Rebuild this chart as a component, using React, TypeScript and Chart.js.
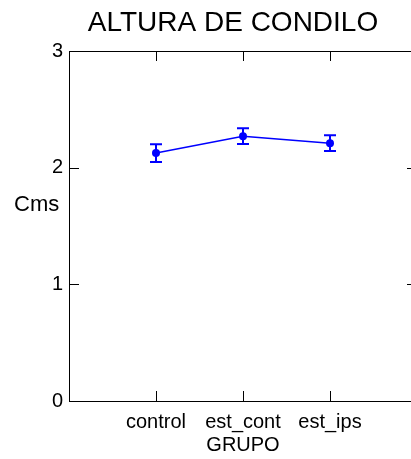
import React, { useEffect, useRef } from "react";
import { Chart, registerables } from "chart.js";

Chart.register(...registerables);

const categories = ["control", "est_cont", "est_ips"];
const means = [2.125, 2.27, 2.21];
const errors = [0.076, 0.068, 0.067];
const yTickValues = [0, 1, 2, 3];
const titleText = "ALTURA DE CONDILO";
const xTitle = "GRUPO";
const yTitle = "Cms";

const FONT = "'Liberation Sans', Arial, sans-serif";
const BLUE = "#0000FF";

const decorPlugin = {
  id: "decor",
  afterDatasetsDraw(chart: any) {
    const { ctx, scales } = chart;
    const x = scales.x;
    const y = scales.y;
    ctx.save();
    ctx.strokeStyle = BLUE;
    ctx.lineWidth = 2;
    ctx.beginPath();
    means.forEach((m, i) => {
      const px = x.getPixelForValue(i + 1);
      const hi = y.getPixelForValue(m + errors[i]);
      const lo = y.getPixelForValue(m - errors[i]);
      ctx.moveTo(px, hi);
      ctx.lineTo(px, lo);
      ctx.moveTo(px - 6, hi);
      ctx.lineTo(px + 6, hi);
      ctx.moveTo(px - 6, lo);
      ctx.lineTo(px + 6, lo);
    });
    ctx.stroke();
    ctx.restore();
  },
  afterDraw(chart: any) {
    const { ctx, chartArea, scales } = chart;
    const { left, right, top, bottom } = chartArea;
    const x = scales.x;
    const y = scales.y;
    ctx.save();
    ctx.strokeStyle = "#000";
    ctx.lineWidth = 1;
    ctx.beginPath();
    categories.forEach((_, i) => {
      const px = Math.round(x.getPixelForValue(i + 1)) + 0.5;
      ctx.moveTo(px, bottom);
      ctx.lineTo(px, bottom - 10);
      ctx.moveTo(px, top);
      ctx.lineTo(px, top + 10);
    });
    yTickValues.forEach((v) => {
      const py = Math.round(y.getPixelForValue(v)) + 0.5;
      ctx.moveTo(left, py);
      ctx.lineTo(left + 10, py);
      ctx.moveTo(right, py);
      ctx.lineTo(right - 10, py);
    });
    ctx.stroke();
    ctx.fillStyle = "#000";
    ctx.font = `22px ${FONT}`;
    ctx.textAlign = "left";
    ctx.textBaseline = "middle";
    ctx.fillText(yTitle, 14, y.getPixelForValue(1.68));
    ctx.restore();
  },
};

export default function App() {
  const ref = useRef<HTMLCanvasElement>(null);
  useEffect(() => {
    if (!ref.current) return;
    const chart = new Chart(ref.current, {
      type: "line",
      data: {
        datasets: [
          {
            data: means.map((m, i) => ({ x: i + 1, y: m })),
            borderColor: BLUE,
            backgroundColor: BLUE,
            borderWidth: 1.5,
            pointRadius: 4,
            pointBorderWidth: 0,
            pointBackgroundColor: BLUE,
            tension: 0,
          },
        ],
      },
      plugins: [decorPlugin],
      options: {
        responsive: false,
        animation: false,
        layout: { padding: 0 },
        plugins: {
          legend: { display: false },
          tooltip: { enabled: false },
          title: {
            display: true,
            text: titleText,
            color: "#000",
            font: { family: FONT, size: 28, weight: "normal", lineHeight: 1.2 },
            padding: { top: 6, bottom: 0 },
          },
        },
        scales: {
          x: {
            type: "linear",
            position: "bottom",
            min: 0,
            max: 4,
            grid: { display: false, drawTicks: false },
            border: { display: true, color: "#000", width: 1 },
            ticks: {
              stepSize: 1,
              padding: 9,
              color: "#000",
              font: { family: FONT, size: 20 },
              maxRotation: 0,
              autoSkip: false,
              callback: (v: any) => categories[Number(v) - 1] ?? "",
            },
            title: {
              display: true,
              text: xTitle,
              color: "#000",
              font: { family: FONT, size: 20 },
              padding: { top: 0, bottom: 2 },
            },
            afterFit: (s: any) => {
              s.height = 58;
            },
          },
          x2: {
            type: "linear",
            position: "top",
            min: 0,
            max: 4,
            grid: { display: false, drawTicks: false },
            border: { display: true, color: "#000", width: 1 },
            ticks: { display: false },
            afterFit: (s: any) => {
              s.height = 11.4;
            },
          },
          y: {
            type: "linear",
            position: "left",
            min: 0,
            max: 3,
            grid: { display: false, drawTicks: false },
            border: { display: true, color: "#000", width: 1 },
            ticks: {
              stepSize: 1,
              padding: 6,
              color: "#000",
              font: { family: FONT, size: 20 },
            },
            afterFit: (s: any) => {
              s.width = 69;
            },
          },
          y2: {
            type: "linear",
            position: "right",
            min: 0,
            max: 3,
            grid: { display: false, drawTicks: false },
            border: { display: true, color: "#000", width: 1 },
            ticks: { display: false },
            afterFit: (s: any) => {
              s.width = 49;
            },
          },
        },
      } as any,
    });
    return () => chart.destroy();
  }, []);
  return (
    <div
      style={{
        position: "fixed",
        left: 0,
        top: 0,
        width: 411,
        height: 459,
        overflow: "hidden",
        background: "#fff",
      }}
    >
      <canvas ref={ref} width={466} height={459} style={{ display: "block" }} />
    </div>
  );
}
